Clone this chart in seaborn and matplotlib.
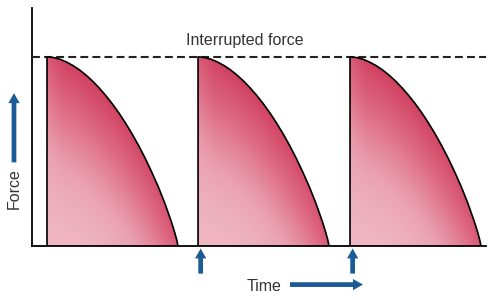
import numpy as np
import matplotlib
matplotlib.use("Agg")
import matplotlib.pyplot as plt
import seaborn as sns
import pandas as pd
from matplotlib.colors import LinearSegmentedColormap

sns.set_theme(style="white")
plt.rcParams['font.family'] = ['Liberation Sans', 'DejaVu Sans']

# ---- data ----
pulse_starts = [0.0, 1.153, 2.313]          # start time of each force pulse
time_frac = [0.0, 0.05, 0.1, 0.15, 0.2, 0.25, 0.3, 0.35, 0.4, 0.45, 0.5,
             0.55, 0.6, 0.65, 0.7, 0.75, 0.8, 0.85, 0.9, 0.95, 0.975, 0.99, 1.0]
force_vals = [1.0, 0.996, 0.987, 0.972, 0.953, 0.930, 0.902, 0.870, 0.834,
              0.794, 0.750, 0.702, 0.649, 0.592, 0.530, 0.463, 0.390, 0.312,
              0.225, 0.127, 0.071, 0.033, 0.0]
peak_force = 1.0
title_text = "Interrupted force"
x_label = "Time"
y_label = "Force"

blue = "#1d5b97"
dark = "#333333"

fig = plt.figure(figsize=(4.96, 3.0), dpi=100)
ax = fig.add_axes([32 / 496, (300 - 246) / 300, 454 / 496, 238 / 300])
ax.set_xlim(-0.1145, 3.351)
ax.set_ylim(0, 1.258)
ax.set_facecolor("white")
for s in ["top", "right"]:
    ax.spines[s].set_visible(False)
for s in ["left", "bottom"]:
    ax.spines[s].set_color("black")
    ax.spines[s].set_linewidth(1.3)
ax.set_xticks([])
ax.set_yticks([])

cmap = LinearSegmentedColormap.from_list(
    "pinkred", ["#f2c0ca", "#eaa2b2", "#de6a83", "#d0405f"])

tf = np.array(time_frac)
fv = np.array(force_vals)
for i, st in enumerate(pulse_starts):
    t = st + tf
    # vertical rising edge + decaying curve
    df = pd.DataFrame({"time": np.concatenate([[st], t]),
                       "force": np.concatenate([[0.0], fv])})
    sns.lineplot(data=df, x="time", y="force", sort=False, color="black",
                 linewidth=1.2, ax=ax, legend=False, estimator=None, zorder=4)
    poly = ax.fill_between(t, 0, fv, facecolor="none", edgecolor="none")
    # gradient image
    nx, ny = 200, 200
    uu, hh = np.meshgrid(np.linspace(0, 1, nx), np.linspace(0, 1, ny))
    fc = np.interp(uu, tf, fv)
    gap = np.clip(fc - hh, 0, None)
    inten = np.clip(1 - gap / 1.0, 0, 1) ** 1.5
    inten *= (0.72 + 0.28 * np.sin(np.pi * np.clip(0.3 + 0.6 * uu, 0, 1)))
    inten *= 0.8 + 0.2 * np.clip(uu / 0.12, 0, 1)
    inten = 0.1 + 0.9 * inten
    im = ax.imshow(inten, origin="lower", cmap=cmap, vmin=0, vmax=1,
                   extent=[st, st + 1, 0, peak_force], aspect="auto",
                   interpolation="bilinear", zorder=1)
    im.set_clip_path(poly.get_paths()[0], transform=ax.transData)

ax.axhline(peak_force, color="#222222", linewidth=1.5,
           linestyle=(0, (3.8, 2.0)), zorder=3)

ax.text(1.511, 1.088, title_text, ha="center", va="center", fontsize=11.5,
        color=dark)

def arrow(x0, y0, x1, y1):
    ax.annotate("", xy=(x1, y1), xytext=(x0, y0), xycoords="data",
                annotation_clip=False,
                arrowprops=dict(arrowstyle="simple,head_width=0.9,head_length=0.8,tail_width=0.38",
                                mutation_scale=9, color=blue, shrinkA=0,
                                shrinkB=0, lw=0))

# force arrow and label
arrow(-0.252, 0.442, -0.252, 0.808)
ax.text(-0.252, 0.305, y_label, rotation=90, ha="center", va="center",
        fontsize=11.5, color=dark, clip_on=False)
# interruption markers
for st in pulse_starts[1:]:
    arrow(st + 0.02, -0.146, st + 0.02, -0.013)
# time label and arrow
ax.text(1.656, -0.2145, x_label, ha="center", va="center", fontsize=11.5,
        color=dark, clip_on=False)
arrow(1.855, -0.204, 2.412, -0.204)

fig.savefig("out.png", dpi=100, facecolor="white")
